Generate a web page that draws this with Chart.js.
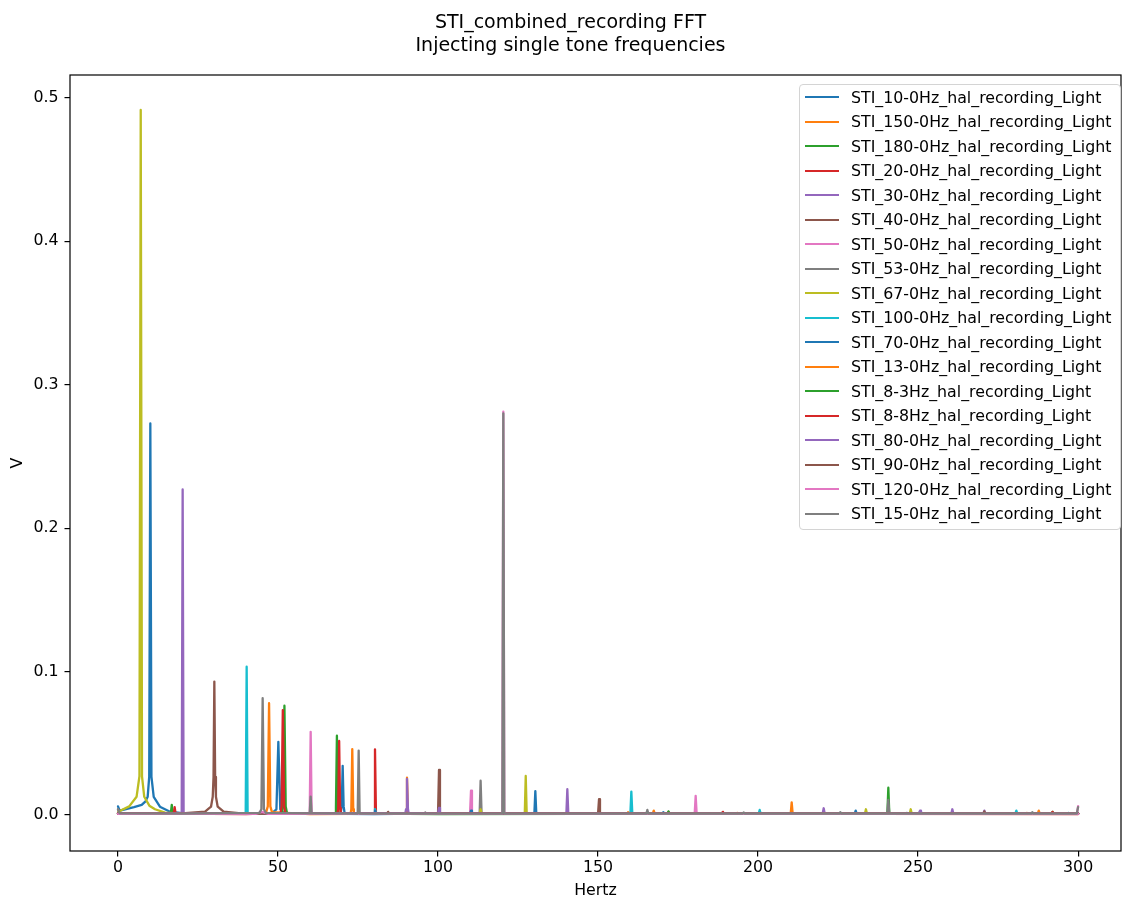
<!DOCTYPE html>
<html>
<head>
<meta charset="utf-8">
<script src="https://cdn.jsdelivr.net/npm/chart.js@4.4.0/dist/chart.umd.min.js"></script>
<style>
html,body{margin:0;padding:0;background:#fff;}
#wrap{position:relative;width:1122px;height:901px;overflow:hidden;}
#title{position:absolute;left:0;top:10px;width:1141px;text-align:center;font-family:"DejaVu Sans";font-size:19px;line-height:23px;color:#000;white-space:pre;}
#legend{position:absolute;left:799px;top:84px;width:322px;box-sizing:border-box;border:1px solid #d4d4d4;border-radius:4px;background:rgba(255,255,255,0.8);padding:0 0 3px 0;font-family:"DejaVu Sans";font-size:15.8px;color:#000;}
.row{display:flex;align-items:center;height:24.5px;white-space:nowrap;}
.hl{width:34px;height:2.3px;margin-left:5px;margin-right:12px;flex:none;}
canvas{position:absolute;left:0;top:0;}
</style>
</head>
<body>
<div id="wrap">
<canvas id="c" width="1122" height="901"></canvas>
<div id="title">STI_combined_recording FFT
Injecting single tone frequencies</div>
<div id="legend"></div>
</div>
<script>
// ---- data (Hz, V) ----
const seriesNames = [
  'STI_10-0Hz_hal_recording_Light','STI_150-0Hz_hal_recording_Light','STI_180-0Hz_hal_recording_Light',
  'STI_20-0Hz_hal_recording_Light','STI_30-0Hz_hal_recording_Light','STI_40-0Hz_hal_recording_Light',
  'STI_50-0Hz_hal_recording_Light','STI_53-0Hz_hal_recording_Light','STI_67-0Hz_hal_recording_Light',
  'STI_100-0Hz_hal_recording_Light','STI_70-0Hz_hal_recording_Light','STI_13-0Hz_hal_recording_Light',
  'STI_8-3Hz_hal_recording_Light','STI_8-8Hz_hal_recording_Light','STI_80-0Hz_hal_recording_Light',
  'STI_90-0Hz_hal_recording_Light','STI_120-0Hz_hal_recording_Light','STI_15-0Hz_hal_recording_Light'
];
const seriesColors = ['#1f77b4','#ff7f0e','#2ca02c','#d62728','#9467bd','#8c564b','#e377c2','#7f7f7f','#bcbd22','#17becf',
  '#1f77b4','#ff7f0e','#2ca02c','#d62728','#9467bd','#8c564b','#e377c2','#7f7f7f'];

const s10_0 = [[0,0.006],[0.5,0.003],[2.2,0.004],[5,0.0055],[7.4,0.007],[8.6,0.0095],[9.27,0.0127],[9.75,0.0266],[10.1,0.273],[10.45,0.0266],[11.16,0.0127],[13.1,0.0058],[16.25,0.0023],[20,0.0013],[35,0.0008],[48,0.0012],[49.5,0.004],[50.1,0.051],[50.7,0.004],[52,0.0012],[80,0.0007],[100,0.0012],[140,0.0009],[170.1,0.0009],[170.4,0.002],[170.7,0.0009],[230.2,0.0009],[230.5,0.003],[230.8,0.0009],[246.2,0.0008],[246.5,0.0015],[246.8,0.0008],[250.3,0.0008],[250.6,0.0025],[250.9,0.0008],[300,0.0009]];
const s150_0 = [[0,0.0012],[20,0.0009],[25.7,0.0009],[26,0.002],[26.3,0.0009],[44,0.0012],[46.3,0.002],[46.8,0.006],[47.2,0.078],[47.6,0.006],[48.1,0.002],[60,0.0006],[100,0.0011],[159.1,0.0008],[159.4,0.002],[159.7,0.0008],[210.2,0.001],[210.5,0.0088],[210.8,0.001],[287.4,0.0009],[287.7,0.003],[288,0.0009],[300,0.001]];
const s180_0 = [[0,0.0008],[16.5,0.001],[16.8,0.007],[17.1,0.001],[40,0.0012],[51.2,0.0015],[51.6,0.006],[52.0,0.0762],[52.4,0.006],[52.8,0.0015],[100,0.0006],[188.7,0.0009],[189,0.002],[189.3,0.0009],[240.4,0.001],[240.7,0.019],[241,0.001],[291.7,0.0009],[292,0.0022],[292.3,0.0009],[300,0.0012]];
const s20_0 = [[0,0.001],[17.4,0.001],[17.7,0.0055],[18,0.001],[40,0.0006],[50.8,0.0015],[51.1,0.006],[51.5,0.0732],[51.9,0.006],[52.3,0.0015],[80,0.001],[80.3,0.0458],[80.6,0.001],[120,0.0012],[171.7,0.0009],[172,0.0022],[172.3,0.0009],[300,0.0007]];
const s30_0 = [[0,0.0012],[19.9,0.001],[20.2,0.227],[20.5,0.001],[60,0.0009],[140.1,0.001],[140.4,0.018],[140.7,0.001],[220.2,0.001],[220.5,0.0047],[220.8,0.001],[260.4,0.001],[260.7,0.004],[261,0.001],[300,0.0013]];
const s40_0 = [[0,0.001],[20,0.0012],[27.2,0.0023],[29.06,0.0058],[29.6,0.0127],[29.85,0.0266],[30.1,0.093],[30.35,0.0266],[30.6,0.0127],[31.15,0.0058],[33,0.0023],[40,0.0008],[100,0.001],[100.3,0.0314],[100.6,0.001],[150,0.001],[150.3,0.011],[150.6,0.001],[300,0.0009]];
const s50_0 = [[0,0.0008],[30,0.0012],[59.9,0.0012],[60.2,0.058],[60.5,0.0012],[110,0.001],[110.3,0.017],[110.6,0.001],[180.2,0.001],[180.5,0.0133],[180.8,0.001],[299.6,0.001],[300,0.0062]];
const s53_0 = [[0,0.004],[0.5,0.001],[40,0.0013],[59.9,0.001],[60.2,0.0128],[60.5,0.001],[95.7,0.001],[96,0.0018],[96.3,0.001],[113,0.001],[113.3,0.0239],[113.6,0.001],[240.4,0.001],[240.7,0.0105],[241,0.001],[300,0.0011]];
const s67_0 = [[0,0.002],[1.15,0.0035],[3.5,0.006],[5.8,0.0127],[6.7,0.027],[7.1,0.4916],[7.5,0.027],[8.2,0.0127],[9.8,0.0065],[11.56,0.004],[14.7,0.0017],[20,0.001],[60,0.0009],[113,0.001],[113.3,0.004],[113.6,0.001],[127.1,0.001],[127.4,0.0272],[127.7,0.001],[233.4,0.001],[233.7,0.004],[234,0.001],[247.4,0.001],[247.7,0.004],[248,0.001],[300,0.0009]];
const s100_0 = [[0,0.001],[39.9,0.001],[40.2,0.1034],[40.5,0.001],[80,0.001],[80.3,0.004],[80.6,0.001],[160.1,0.001],[160.4,0.0163],[160.7,0.001],[200.2,0.001],[200.5,0.0035],[200.8,0.001],[280.4,0.001],[280.7,0.003],[281,0.001],[296.7,0.0008],[297,0.0015],[297.3,0.0008],[300,0.001]];
const s70_0 = [[0,0.001],[69.6,0.0015],[69.9,0.006],[70.2,0.0343],[70.5,0.006],[70.8,0.0015],[80,0.001],[80.3,0.003],[80.6,0.001],[110,0.001],[110.3,0.003],[110.6,0.001],[130.1,0.001],[130.4,0.0167],[130.7,0.001],[300,0.0009]];
const s13_0 = [[0,0.001],[72.7,0.0015],[72.9,0.004],[73.2,0.046],[73.5,0.004],[73.7,0.0015],[90,0.001],[90.3,0.026],[90.6,0.001],[167.1,0.001],[167.4,0.003],[167.7,0.001],[193.2,0.0009],[193.5,0.0015],[193.8,0.0009],[283.7,0.0009],[284,0.0015],[284.3,0.0009],[300,0.001]];
const s8_3 = [[0,0.001],[67.9,0.0015],[68.1,0.005],[68.4,0.0553],[68.7,0.005],[68.9,0.0015],[171.7,0.0009],[172,0.0025],[172.3,0.0009],[300,0.001]];
const s8_8 = [[0,0.001],[68.6,0.0015],[68.8,0.005],[69.1,0.0516],[69.4,0.005],[69.6,0.0015],[188.7,0.0009],[189,0.0022],[189.3,0.0009],[291.7,0.0009],[292,0.0022],[292.3,0.0009],[300,0.001]];
const s80_0 = [[0,0.001],[89.8,0.0015],[90.0,0.004],[90.3,0.0251],[90.6,0.004],[90.8,0.0015],[100,0.001],[100.3,0.005],[100.6,0.001],[250.3,0.001],[250.6,0.003],[250.9,0.001],[270.4,0.001],[270.7,0.003],[271,0.001],[300,0.001]];
const s90_0 = [[0,0.001],[84.1,0.001],[84.4,0.0022],[84.7,0.001],[270.4,0.001],[270.7,0.0025],[271,0.001],[300,0.0009]];
const s120_0 = [[0,0.0008],[43,0.0008],[45,0.0022],[47,0.0008],[120.1,0.001],[120.4,0.2812],[120.7,0.001],[300,0.0008]];
const s15_0 = [[0,0.004],[0.5,0.0012],[20,0.0009],[44.2,0.0015],[44.8,0.004],[45.2,0.0814],[45.6,0.004],[46.2,0.0015],[60,0.0011],[74.9,0.001],[75.2,0.0449],[75.5,0.001],[120.1,0.001],[120.4,0.280],[120.7,0.001],[165.1,0.001],[165.4,0.0035],[165.7,0.001],[195.2,0.001],[195.5,0.0018],[195.8,0.001],[225.4,0.001],[225.7,0.002],[226,0.001],[285.4,0.001],[285.7,0.002],[286,0.001],[299.6,0.001],[300,0.0055]];

const seriesData = [s10_0,s150_0,s180_0,s20_0,s30_0,s40_0,s50_0,s53_0,s67_0,s100_0,s70_0,s13_0,s8_3,s8_8,s80_0,s90_0,s120_0,s15_0];

const xTicks = [0,50,100,150,200,250,300];
const xTickLabels = ['0','50','100','150','200','250','300'];
const yTicks = [0,0.1,0.2,0.3,0.4,0.5];
const yTickLabels = ['0.0','0.1','0.2','0.3','0.4','0.5'];

// ---- chart ----
Chart.defaults.font.family = '"DejaVu Sans"';
Chart.defaults.font.size = 15.8;
Chart.defaults.color = '#000';

const datasets = seriesData.map((arr, i) => ({
  label: seriesNames[i],
  data: arr.map(([x, y]) => ({x, y})),
  borderColor: seriesColors[i],
  backgroundColor: seriesColors[i],
  borderWidth: 2.3,
  pointRadius: 0,
  tension: 0,
  fill: false,
  order: seriesData.length - i,   // later series drawn on top, like matplotlib
  borderJoinStyle: 'round',
  borderCapStyle: 'round'
}));

const frame = {
  id: 'frame',
  afterDraw(chart) {
    const {ctx, chartArea: a} = chart;
    ctx.save();
    ctx.strokeStyle = '#000';
    ctx.lineWidth = 1.2;
    ctx.strokeRect(a.left, a.top, a.right - a.left, a.bottom - a.top);
    ctx.restore();
  }
};

const chart = new Chart(document.getElementById('c'), {
  type: 'line',
  data: {datasets},
  options: {
    responsive: false,
    animation: false,
    devicePixelRatio: 1,
    layout: {padding: {left: 0, right: 1, top: 75, bottom: 0}},
    plugins: {legend: {display: false}, title: {display: false}, tooltip: {enabled: false}},
    scales: {
      x: {
        type: 'linear', min: -15, max: 313.4,
        afterBuildTicks: s => { s.ticks = xTicks.map(v => ({value: v})); },
        afterFit: s => { s.height = 50; },
        ticks: {autoSkip: false, maxRotation: 0, padding: 2, callback: (v, i) => xTickLabels[i]},
        grid: {drawOnChartArea: false, drawTicks: true, tickLength: 5.5, color: '#000', lineWidth: 1.2},
        border: {display: false},
        title: {display: true, text: 'Hertz', padding: {top: 0, bottom: 1}}
      },
      y: {
        type: 'linear', min: -0.0251, max: 0.516,
        afterBuildTicks: s => { s.ticks = yTicks.map(v => ({value: v})); },
        afterFit: s => { s.width = 70; },
        ticks: {autoSkip: false, padding: 6, callback: (v, i) => yTickLabels[i]},
        grid: {drawOnChartArea: false, drawTicks: true, tickLength: 5.5, color: '#000', lineWidth: 1.2},
        border: {display: false},
        title: {display: true, text: 'V', padding: {top: 8, bottom: 0}}
      }
    }
  },
  plugins: [frame]
});

// HTML legend built from the chart's datasets
const lg = document.getElementById('legend');
chart.data.datasets.forEach(ds => {
  const row = document.createElement('div');
  row.className = 'row';
  const h = document.createElement('span');
  h.className = 'hl';
  h.style.background = ds.borderColor;
  const t = document.createElement('span');
  t.textContent = ds.label;
  row.appendChild(h); row.appendChild(t);
  lg.appendChild(row);
});
</script>
</body>
</html>
